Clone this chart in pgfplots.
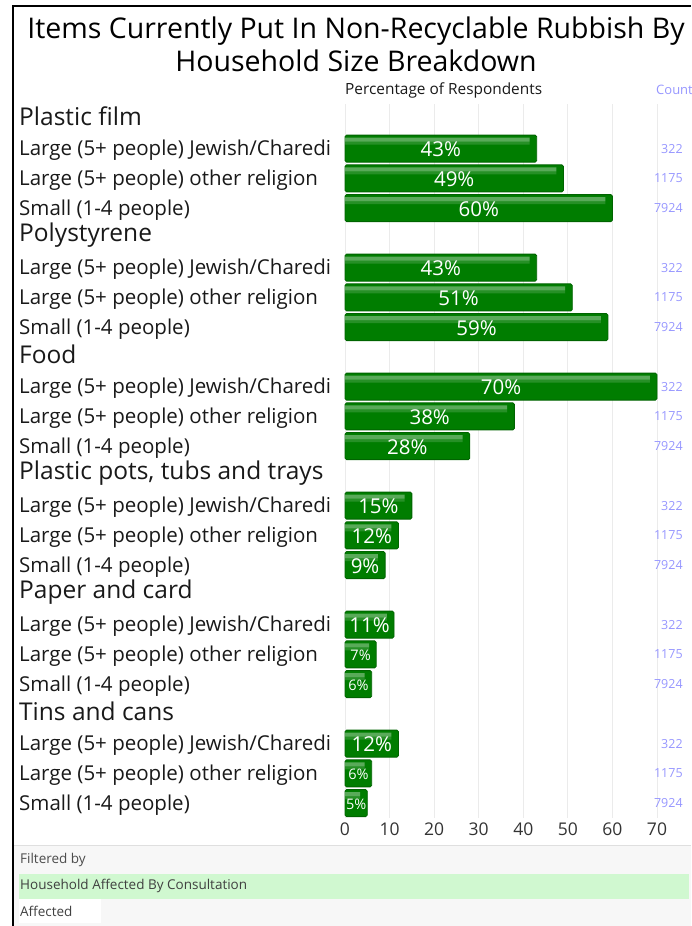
\documentclass[border=0pt]{standalone}
\usepackage{fontspec}
\setmainfont{Open Sans}
\usepackage{pgfplots}
\usepackage{pgfplotstable}
\pgfplotsset{compat=1.18}
\definecolor{barGreen}{RGB}{0,125,0}
\definecolor{barEdge}{RGB}{0,100,0}
\definecolor{countBlue}{RGB}{150,150,255}
\definecolor{gridGrey}{RGB}{235,235,235}
\definecolor{txt}{RGB}{25,25,25}
\definecolor{panelBg}{RGB}{247,247,247}
\definecolor{panelGreen}{RGB}{208,248,208}
\newcommand{\hdr}[1]{\fontsize{24.5}{26}\selectfont\raisebox{4.5pt}[\height][\depth]{#1}}
\newcommand{\sub}{\fontsize{20.5}{22}\selectfont}
\pgfplotstableread{
row v n
1 43 322
2 49 1175
3 60 7924
5 43 322
6 51 1175
7 59 7924
9 70 322
10 38 1175
11 28 7924
13 15 322
14 12 1175
15 9 7924
17 11 322
18 7 1175
19 6 7924
21 12 322
22 6 1175
23 5 7924
}\datatable
\begin{document}
\begin{tikzpicture}
\path[use as bounding box] (0pt,0pt) rectangle (691pt,-926pt);
% bottom panel
\fill[panelBg] (14pt,-845pt) rectangle (691pt,-926pt);
\draw[gray!25, line width=1pt] (14pt,-845pt) -- (691pt,-845pt);
\fill[panelGreen] (19pt,-874pt) rectangle (689pt,-899pt);
\fill[white] (19pt,-899pt) rectangle (101pt,-923pt);
\node[anchor=west, inner sep=0pt, text=black!70, font=\fontsize{13.5}{16}\selectfont] at (20pt,-860pt) {Filtered by};
\node[anchor=west, inner sep=0pt, text=black!75, font=\fontsize{13.5}{16}\selectfont] at (20pt,-886pt) {Household Affected By Consultation};
\node[anchor=west, inner sep=0pt, text=black!75, font=\fontsize{13.5}{16}\selectfont] at (20pt,-911pt) {Affected};
% frame
\draw[line width=2.5pt] (13pt,-926pt) -- (13pt,-6pt) -- (691pt,-6pt);
% title
\node[align=center, inner sep=0pt, font=\fontsize{28.5}{33}\selectfont, text=black] at (356pt,-44pt) {Items Currently Put In Non-Recyclable Rubbish By\\Household Size Breakdown};
\node[anchor=west, inner sep=0pt, text=txt, font=\fontsize{15.4}{17}\selectfont] at (345pt,-90pt) {Percentage of Respondents};
\node[anchor=west, inner sep=0pt, text=countBlue, font=\fontsize{13}{15}\selectfont] at (656pt,-90pt) {Count};
\begin{axis}[
  at={(345pt,-818pt)}, anchor=south west,
  scale only axis, width=312pt, height=714pt,
  xmin=0, xmax=70, ymin=-0.5, ymax=23.5, y dir=reverse,
  clip=false,
  axis line style={draw=none},
  major tick length=0pt,
  xtick={0,10,...,70},
  xmajorgrids, grid style={gridGrey, line width=0.8pt},
  /pgf/number format/assume math mode=true,
  xticklabel style={font=\fontsize{17.5}{19}\selectfont, text=black!80, yshift=-1pt},
  ytick={0,...,23},
  yticklabels={
    {\hdr{Plastic film}},{Large (5+ people) Jewish/Charedi},{Large (5+ people) other religion},{Small (1-4 people)},
    {\hdr{Polystyrene}},{Large (5+ people) Jewish/Charedi},{Large (5+ people) other religion},{Small (1-4 people)},
    {\hdr{Food}},{Large (5+ people) Jewish/Charedi},{Large (5+ people) other religion},{Small (1-4 people)},
    {\hdr{Plastic pots, tubs and trays}},{Large (5+ people) Jewish/Charedi},{Large (5+ people) other religion},{Small (1-4 people)},
    {\hdr{Paper and card}},{Large (5+ people) Jewish/Charedi},{Large (5+ people) other religion},{Small (1-4 people)},
    {\hdr{Tins and cans}},{Large (5+ people) Jewish/Charedi},{Large (5+ people) other religion},{Small (1-4 people)}},
  yticklabel style={anchor=west, inner sep=0pt, xshift=-326pt, yshift=-2pt, font=\sub, text=txt},
]
\addplot[xbar, bar width=27pt, draw=barEdge, line width=0.8pt, fill=barGreen, rounded corners=1.5pt]
  table[x=v, y=row] {\datatable};
\addplot[xbar, bar width=4pt, bar shift=9pt, draw=none, fill=white, fill opacity=0.35]
  table[x expr=\thisrow{v}-1.6, y=row] {\datatable};
\addplot[xbar, bar width=3pt, bar shift=5.5pt, draw=none, fill=white, fill opacity=0.15]
  table[x expr=\thisrow{v}-1.6, y=row] {\datatable};
\addplot[draw=none, mark=none, restrict x to domain=4:100,
  point meta=explicit symbolic,
  nodes near coords={\pgfplotspointmeta\%}, nodes near coords align=center,
  every node near coord/.append style={text=white, font=\fontsize{20.5}{22}\selectfont, inner sep=0pt, yshift=-1pt}]
  table[x expr=\thisrow{v}/2, y=row, meta=v] {\datatable};
\addplot[draw=none, mark=none, restrict x to domain=0:4,
  point meta=explicit symbolic,
  nodes near coords={\pgfplotspointmeta\%}, nodes near coords align=center,
  every node near coord/.append style={text=white, font=\fontsize{14.5}{16}\selectfont, inner sep=0pt, yshift=-1pt}]
  table[x expr=\thisrow{v}/2, y=row, meta=v] {\datatable};
\addplot[draw=none, mark=none,
  point meta=explicit symbolic,
  nodes near coords={\pgfplotspointmeta},
  every node near coord/.append style={anchor=east, text=countBlue, font=\fontsize{12.5}{14}\selectfont, inner sep=0pt}]
  table[x expr=75.8, y=row, meta=n] {\datatable};
\end{axis}
\end{tikzpicture}
\end{document}
